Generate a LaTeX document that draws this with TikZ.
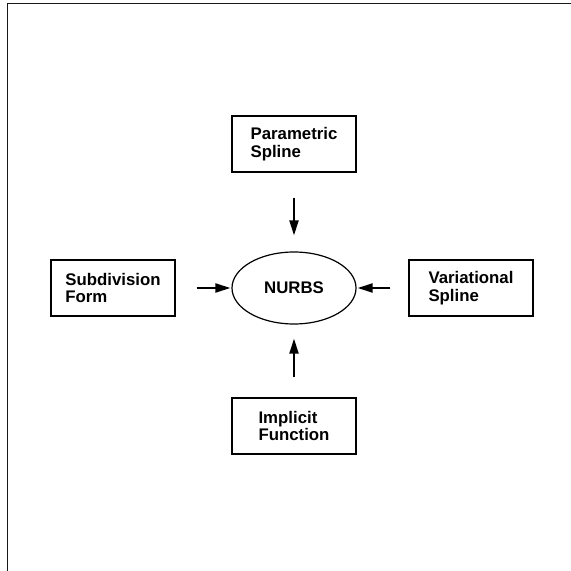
\documentclass[tikz,border=0pt]{standalone}
\usepackage{fontspec}
\setmainfont{Liberation Sans}
\usetikzlibrary{shapes.geometric,arrows.meta}

\begin{document}
\begin{tikzpicture}[x=0.5pt,y=-0.5pt,
    kasten/.style={draw, line width=0.6pt, rectangle, minimum width=62pt, minimum height=28pt, inner sep=0pt, align=left, font=\fontsize{8.4}{8.7}\selectfont\bfseries},
    oval/.style={draw, line width=0.6pt, ellipse, minimum width=62pt, minimum height=36pt, inner sep=0pt, font=\fontsize{8.4}{8.7}\selectfont\bfseries},
    pfeil/.style={line width=1pt, -{Triangle[length=7.5pt,width=4.5pt]}}]

\useasboundingbox (0,0) rectangle (571,571);
\draw [line width=0.8pt, black!90] (7.5,571) -- (7.5,3.5) -- (571,3.5);

\node [oval] (nurbs) at (294,288){NURBS};
\node [kasten] (par) at (294,144){Parametric\\Spline};
\node [kasten] (sub) at (113,288){Subdivision\\Form};
\node [kasten] (var) at (471,288){Variational\\Spline};
\node [kasten] (imp) at (294,426){Implicit\\Function};

\draw [pfeil, shorten <=12.5pt, shorten >=8pt] (par) -- (nurbs);
\draw [pfeil, shorten <=10.5pt, shorten >=0.5pt] (sub) -- (nurbs);
\draw [pfeil, shorten <=9pt, shorten >=0.5pt] (var) -- (nurbs);
\draw [pfeil, shorten <=10pt, shorten >=7pt] (imp) -- (nurbs);
\end{tikzpicture}
\end{document}
